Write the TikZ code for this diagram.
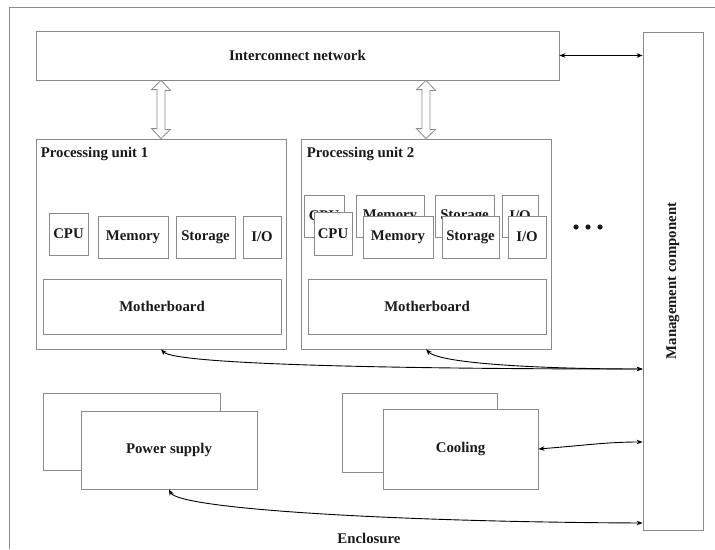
\documentclass[tikz,border=0pt]{standalone}
\usepackage{fontspec}
\setmainfont{Liberation Serif}
\usetikzlibrary{arrows.meta,calc}
\definecolor{boxgray}{HTML}{8A8A8A}
\definecolor{txt}{HTML}{1A1A1A}
\begin{document}
\begin{tikzpicture}[x=1pt,y=-1pt,
  box/.style={draw=boxgray, line width=0.8pt, fill=white, inner sep=0pt, text=txt,
    font=\fontsize{14.8}{17}\selectfont\bfseries},
  lbl/.style={inner sep=0pt, text=txt, font=\fontsize{14.8}{17}\selectfont\bfseries},
  conn/.style={line width=0.9pt, {Stealth[length=6pt,width=4.5pt]}-{Stealth[length=6pt,width=4.5pt]}},
  hollow/.style={draw=boxgray, line width=0.8pt, fill=white}]
\useasboundingbox (0,0) rectangle (715,549);
% enclosure
\draw[boxgray, line width=0.8pt] (9,549) -- (9,7) -- (715,7);
\node[lbl] (encl) at (369,538) {Enclosure};
% top
\node[box, minimum width=523, minimum height=49] (ic) at (297.5,55.5) {Interconnect network};
\node[box, minimum width=60, minimum height=498] (mg) at (673,281) {};
\node[lbl, rotate=90] (mgt) at (mg.center) {Management component};
% processing units
\node[box, minimum width=250, minimum height=210] (pu1) at (161,244) {};
\node[box, minimum width=250, minimum height=210] (pu2) at (426,244) {};
\node[lbl, anchor=base west] (pu1t) at ($(pu1.north west)+(5,19)$) {Processing unit 1};
\node[lbl, anchor=base west] (pu2t) at ($(pu2.north west)+(6,19)$) {Processing unit 2};
% PU1 parts
\node[box, minimum width=39, minimum height=42] (cpu1) at (68.5,234) {CPU};
\node[box, minimum width=70, minimum height=42] (mem1) at (133,237) {Memory};
\node[box, minimum width=59, minimum height=42] (sto1) at (205.5,237) {Storage};
\node[box, minimum width=38, minimum height=42] (io1) at (262,237) {I/O};
\node[box, minimum width=238, minimum height=55] (mb1) at (162,306.5) {Motherboard};
% PU2 back parts
\node[box, minimum width=40, minimum height=42] (cpu2b) at (324,216) {CPU};
\node[box, minimum width=68, minimum height=42] (mem2b) at (390,216) {Memory};
\node[box, minimum width=59, minimum height=42] (sto2b) at (464.5,216) {Storage};
\node[box, minimum width=36, minimum height=42] (io2b) at (520,216) {I/O};
% PU2 front parts
\node[box, minimum width=38, minimum height=43] (cpu2) at (333,233.5) {CPU};
\node[box, minimum width=70, minimum height=42] (mem2) at (398,237) {Memory};
\node[box, minimum width=57, minimum height=42] (sto2) at (470.5,237) {Storage};
\node[box, minimum width=38, minimum height=42] (io2) at (527,237) {I/O};
\node[box, minimum width=238, minimum height=55] (mb2) at (427,306.5) {Motherboard};
% dots
\foreach \x in {576,588,600} \fill[txt] (\x,227) circle (2.6);
% power supply & cooling
\node[box, minimum width=177, minimum height=77] (psb) at (131.5,431.5) {};
\node[box, minimum width=176, minimum height=78] (ps) at (169,450) {Power supply};
\node[box, minimum width=155, minimum height=79] (coolb) at (419.5,432.5) {};
\node[box, minimum width=155, minimum height=80] (cool) at (460.5,449) {Cooling};
% hollow double arrows
\foreach \u in {pu1,pu2}{
  \draw[hollow] (ic.south -| \u.north) -- ++(9.5,10) -- ++(-5.5,0) -- ++(0,39) -- ++(5.5,0)
    -- (\u.north) -- ++(-9.5,-10) -- ++(5.5,0) -- ++(0,-39) -- ++(-5.5,0) -- cycle;
}
% connectors to management
\draw[conn] (ic.east) -- (mg.west |- ic.east);
\coordinate (mpu) at (mg.west |- 0,369);
\coordinate (mcool) at (mg.west |- 0,442);
\coordinate (mps) at (mg.west |- 0,523);
\draw[conn] (pu1.south) .. controls +(15,15) and +(-250,0) .. (mpu);
\draw[conn] (pu2.south) .. controls +(15,15) and +(-90,0) .. (mpu);
\draw[conn] (cool.east) .. controls +(50,-4) and +(-35,0) .. (mcool);
\draw[conn] (ps.south) .. controls +(10,20) and +(-240,-1) .. (mps);
\end{tikzpicture}
\end{document}
